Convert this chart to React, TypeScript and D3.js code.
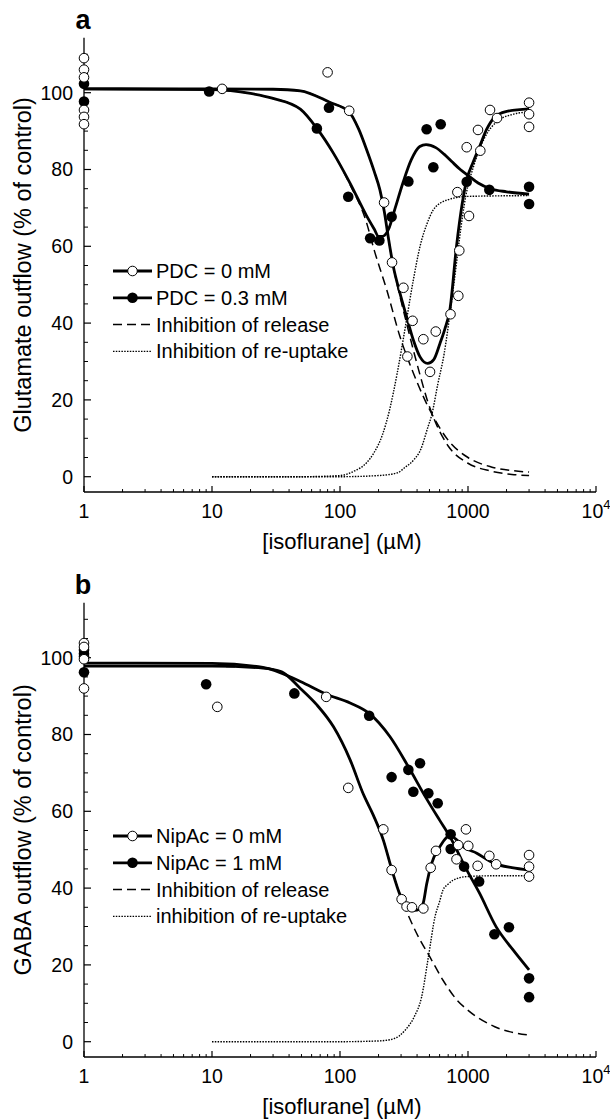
import * as d3 from "d3";

type Pt = [number, number];

// ---- panel a: glutamate, PDC ----
const gluOpenPts: Pt[] = [
  [1, 109], [1, 106], [1, 104], [1, 95.5], [1, 93.7], [1, 91.8],
  [12, 101], [80, 105.3], [118, 95.3], [221, 71.4], [255, 55.8], [313, 49.2],
  [336, 31.3], [369, 40.6], [448, 35.8], [505, 27.3], [560, 37.8], [730, 42.3],
  [840, 47.1], [855, 58.9], [826, 74.1], [1018, 67.9], [977, 85.8], [1197, 90.3],
  [1248, 84.9], [1486, 95.5], [1686, 93.4], [3000, 97.4], [3000, 94.4], [3000, 91.1],
];
const gluFilledPts: Pt[] = [
  [1, 102.3], [1, 97.7], [9.5, 100.3], [66, 90.7], [82, 96.1], [116, 72.9],
  [172, 62.1], [203, 61.5], [253, 67.7], [342, 76.9], [475, 90.5], [536, 80.6],
  [612, 91.8], [977, 76.8], [1468, 74.7], [3000, 75.5], [3000, 71.0],
];
const gluOpenFit: Pt[] = [
  [1, 101], [10, 101], [30, 100.9], [49, 100.5], [83, 97.5], [118, 95], [140, 90.5],
  [162, 85], [185, 79.5], [205, 74.7], [222, 69], [238, 62.5], [260, 55], [294, 47.8],
  [331, 41.7], [374, 35.6], [422, 31.2], [484, 29.5], [540, 30.5], [604, 34.7],
  [660, 38.5], [722, 43.5], [813, 60], [900, 71], [977, 77.3], [1100, 82],
  [1233, 86], [1400, 90.5], [1600, 93.5], [1975, 95.1], [3000, 95.8],
];
const gluFilledFit: Pt[] = [
  [1, 101], [10, 100.8], [20, 99.8], [30, 98.5], [49, 95.7], [66, 90.7], [89, 84.2],
  [120, 76.4], [161, 68], [185, 64.5], [200, 62.6], [215, 62.6], [240, 64.5],
  [270, 70], [310, 76.5], [360, 82.5], [420, 86], [470, 86.5], [560, 85.7],
  [650, 84], [750, 82], [870, 80], [1000, 78.5], [1200, 76.5], [1500, 75],
  [2000, 74.2], [3000, 73.6],
];
const gluRelease0: Pt[] = [
  [10, 101], [30, 100.9], [49, 100.5], [83, 97.5], [118, 95], [140, 90.5], [162, 85],
  [185, 79.5], [205, 74.7], [222, 69], [238, 62.5], [260, 55], [294, 47], [331, 40],
  [374, 33], [422, 26.5], [480, 20], [560, 14], [700, 8], [1000, 3.5], [1500, 1.5],
  [2200, 0.6], [3000, 0.3],
];
const gluRelease03: Pt[] = [
  [10, 100.8], [20, 99.8], [30, 98.5], [49, 95.7], [66, 90.7], [89, 84.2], [120, 76],
  [160, 66.5], [185, 59], [232, 48.6], [294, 36.5], [374, 27], [536, 15.6], [700, 9.5],
  [1000, 5], [1500, 2.6], [2200, 1.6], [3000, 1.2],
];
const gluUptake0: Pt[] = [
  [10, 0], [100, 0], [200, 0.3], [280, 1], [324, 2.5], [380, 4.5], [426, 7], [487, 13],
  [520, 16], [580, 24], [651, 32], [720, 42], [813, 55.6], [855, 61.6], [960, 73],
  [1110, 81], [1360, 88.5], [1686, 92.5], [2200, 94.3], [3000, 95],
];
const gluUptake03: Pt[] = [
  [10, 0], [50, 0], [100, 0.3], [130, 1.5], [160, 3.5], [184, 6.2], [215, 11],
  [244, 17.4], [280, 27], [324, 39], [373, 51], [422, 60], [480, 66], [536, 69.5],
  [680, 72], [1000, 73], [3000, 73.2],
];

// ---- panel b: GABA, NipAc ----
const gabaOpenPts: Pt[] = [
  [1, 103.8], [1, 102.8], [1, 99.6], [1, 92], [11, 87.2], [78, 89.8], [116, 66.1],
  [218, 55.3], [253, 44.7], [303, 37.1], [331, 35.2], [365, 35], [448, 34.7],
  [511, 45.3], [562, 49.7], [813, 47.5], [839, 51.2], [964, 55.3], [1005, 51],
  [1189, 45.8], [1468, 48.4], [1660, 46.2], [3000, 48.6], [3000, 45.6], [3000, 43],
];
const gabaFilledPts: Pt[] = [
  [1, 102], [1, 101], [1, 100.3], [1, 96.2], [9, 93.1], [44, 90.7], [169, 84.9],
  [253, 68.9], [342, 70.8], [422, 72.5], [374, 65.1], [490, 64.7], [580, 62.1],
  [732, 54], [732, 50.2], [932, 45.6], [1222, 41.7], [1608, 28], [2088, 29.8],
  [3000, 16.5], [3000, 11.6],
];
const gabaOpenFit: Pt[] = [
  [1, 97.8], [10, 97.8], [25, 97.3], [35, 96.3], [49, 92], [66, 87.7], [89, 82],
  [120, 73.4], [152, 64.5], [182, 59], [218, 52.5], [253, 45], [294, 38.3], [330, 35],
  [380, 34.2], [420, 34.5], [450, 36.5], [475, 41], [521, 46.5], [603, 50.8],
  [680, 53.2], [722, 53.8], [800, 52.8], [915, 50.8], [1171, 49.1], [1585, 46.5],
  [2200, 45.3], [3000, 44.7],
];
const gabaFilledFit: Pt[] = [
  [1, 98.6], [10, 98.5], [25, 97.5], [49, 93.8], [78, 90.5], [120, 88.2], [169, 85.5],
  [246, 79.4], [342, 71.6], [470, 63.5], [600, 57.7], [722, 53.4], [947, 45.6],
  [1233, 38.6], [1660, 29.9], [2250, 23.9], [3000, 18.7],
];
const gabaRelease: Pt[] = [
  [10, 97.8], [25, 97.3], [35, 96.3], [49, 92], [66, 87.7], [89, 82], [120, 73.4],
  [152, 64.5], [182, 59], [218, 52.5], [253, 45], [294, 38.3], [351, 32], [422, 26.5],
  [505, 22], [638, 16], [813, 11], [990, 8.3], [1618, 3.9], [3000, 1.7],
];
const gabaUptake: Pt[] = [
  [10, 0], [100, 0], [200, 0.2], [244, 0.5], [290, 1.5], [323, 3], [380, 6.5],
  [433, 11.5], [490, 22], [553, 32.6], [600, 36.5], [638, 39.5], [698, 41],
  [770, 42.1], [977, 43], [1500, 43.2], [3000, 43.2],
];

const xMajor = [1, 10, 100, 1000, 10000];
const xLabels = ["1", "10", "100", "1000", "10"];
const yMajor = [0, 20, 40, 60, 80, 100];
const legendA = ["PDC = 0 mM", "PDC = 0.3 mM", "Inhibition of release", "Inhibition of re-uptake"];
const legendB = ["NipAc = 0 mM", "NipAc = 1 mM", "Inhibition of release", "inhibition of re-uptake"];

const FONT = "'Liberation Sans', Arial, Helvetica, sans-serif";
const DOTS = "1.5,1.3";
const DASHES = "9,5";

function Panel({ top, letter, yTitle, openPts, filledPts, openFit, filledFit, releases, uptakes, legend }: any) {
  const x = d3.scaleLog().domain([1, 10000]).range([84, 596]);
  const y = d3.scaleLinear().domain([0, 100]).range([top + 476.7, top + 92.7]);
  const line = d3
    .line<Pt>()
    .x((d) => x(d[0]))
    .y((d) => y(d[1]))
    .curve(d3.curveMonotoneX);

  const axisY = y(-4);
  const axisTop = y(114.3);

  const minorX: number[] = [];
  [1, 10, 100, 1000].forEach((d) => {
    for (let k = 2; k <= 9; k++) minorX.push(d * k);
  });
  const minorY = d3.range(5, 115, 5).filter((v) => v % 20 !== 0);

  return (
    <g fontFamily={FONT}>
      <text x={83} y={top + 29} fontSize={27} fontWeight="bold" textAnchor="middle">
        {letter}
      </text>

      {/* axes */}
      <line x1={84} x2={84} y1={axisTop} y2={axisY} stroke="#000" strokeWidth={1.3} />
      <line x1={84} x2={x(10000)} y1={axisY} y2={axisY} stroke="#000" strokeWidth={1.5} />
      {yMajor.map((v) => (
        <g key={"ym" + v}>
          <line x1={84} x2={91} y1={y(v)} y2={y(v)} stroke="#000" strokeWidth={1.2} />
          <text x={73} y={y(v)} dy="0.35em" fontSize={19.5} textAnchor="end">
            {v}
          </text>
        </g>
      ))}
      {minorY.map((v) => (
        <line key={"yn" + v} x1={84} x2={88} y1={y(v)} y2={y(v)} stroke="#000" strokeWidth={1} />
      ))}
      {xMajor.map((v, i) => (
        <g key={"xm" + v}>
          <line x1={x(v)} x2={x(v)} y1={axisY} y2={axisY - 6} stroke="#000" strokeWidth={1.2} />
          <text x={x(v)} y={axisY + 19.5} dy="0.35em" fontSize={19.5} textAnchor="middle">
            {xLabels[i]}
            {v === 10000 && (
              <tspan fontSize={13} dy="-0.75em">
                4
              </tspan>
            )}
          </text>
        </g>
      ))}
      {minorX.map((v) => (
        <line key={"xn" + v} x1={x(v)} x2={x(v)} y1={axisY} y2={axisY - 3} stroke="#000" strokeWidth={1} />
      ))}
      <text x={342} y={axisY + 49} dy="0.35em" fontSize={22} textAnchor="middle">
        [isoflurane] (µM)
      </text>
      <text
        transform={`translate(23,${(axisTop + axisY) / 2}) rotate(-90)`}
        dy="0.35em"
        fontSize={23.5}
        textAnchor="middle"
      >
        {yTitle}
      </text>

      {/* model curves */}
      {uptakes.map((u: Pt[], i: number) => (
        <path key={"u" + i} d={line(u) || ""} fill="none" stroke="#000" strokeWidth={1.4} strokeDasharray={DOTS} />
      ))}
      {releases.map((r: Pt[], i: number) => (
        <path key={"r" + i} d={line(r) || ""} fill="none" stroke="#000" strokeWidth={1.5} strokeDasharray={DASHES} />
      ))}
      <path d={line(filledFit) || ""} fill="none" stroke="#000" strokeWidth={2.8} />
      <path d={line(openFit) || ""} fill="none" stroke="#000" strokeWidth={2.8} />

      {/* data points */}
      {filledPts.map((d: Pt, i: number) => (
        <circle key={"f" + i} cx={x(d[0])} cy={y(d[1])} r={5.3} fill="#000" />
      ))}
      {openPts.map((d: Pt, i: number) => (
        <circle key={"o" + i} cx={x(d[0])} cy={y(d[1])} r={4.8} fill="#fff" stroke="#000" strokeWidth={1} />
      ))}

      {/* legend */}
      {legend.map((t: string, i: number) => {
        const ly = top + 271 + i * 26.8;
        return (
          <g key={"l" + i}>
            {i < 2 && <line x1={113} x2={152} y1={ly} y2={ly} stroke="#000" strokeWidth={2.8} />}
            {i === 0 && <circle cx={132.5} cy={ly} r={4.8} fill="#fff" stroke="#000" strokeWidth={1} />}
            {i === 1 && <circle cx={132.5} cy={ly} r={5.3} fill="#000" />}
            {i === 2 && (
              <line x1={113} x2={152} y1={ly} y2={ly} stroke="#000" strokeWidth={1.5} strokeDasharray={DASHES} />
            )}
            {i === 3 && (
              <line x1={113} x2={152} y1={ly} y2={ly} stroke="#000" strokeWidth={1.4} strokeDasharray={DOTS} />
            )}
            <text x={156} y={ly} dy="0.35em" fontSize={20}>
              {t}
            </text>
          </g>
        );
      })}
    </g>
  );
}

export default function App() {
  return (
    <svg
      width={610}
      height={1119}
      style={{ position: "absolute", left: 0, top: 0, background: "#fff" }}
    >
      <rect width={610} height={1119} fill="#fff" />
      <Panel
        top={0}
        letter="a"
        yTitle="Glutamate outflow (% of control)"
        openPts={gluOpenPts}
        filledPts={gluFilledPts}
        openFit={gluOpenFit}
        filledFit={gluFilledFit}
        releases={[gluRelease0, gluRelease03]}
        uptakes={[gluUptake0, gluUptake03]}
        legend={legendA}
      />
      <Panel
        top={565}
        letter="b"
        yTitle="GABA outflow (% of control)"
        openPts={gabaOpenPts}
        filledPts={gabaFilledPts}
        openFit={gabaOpenFit}
        filledFit={gabaFilledFit}
        releases={[gabaRelease]}
        uptakes={[gabaUptake]}
        legend={legendB}
      />
    </svg>
  );
}
